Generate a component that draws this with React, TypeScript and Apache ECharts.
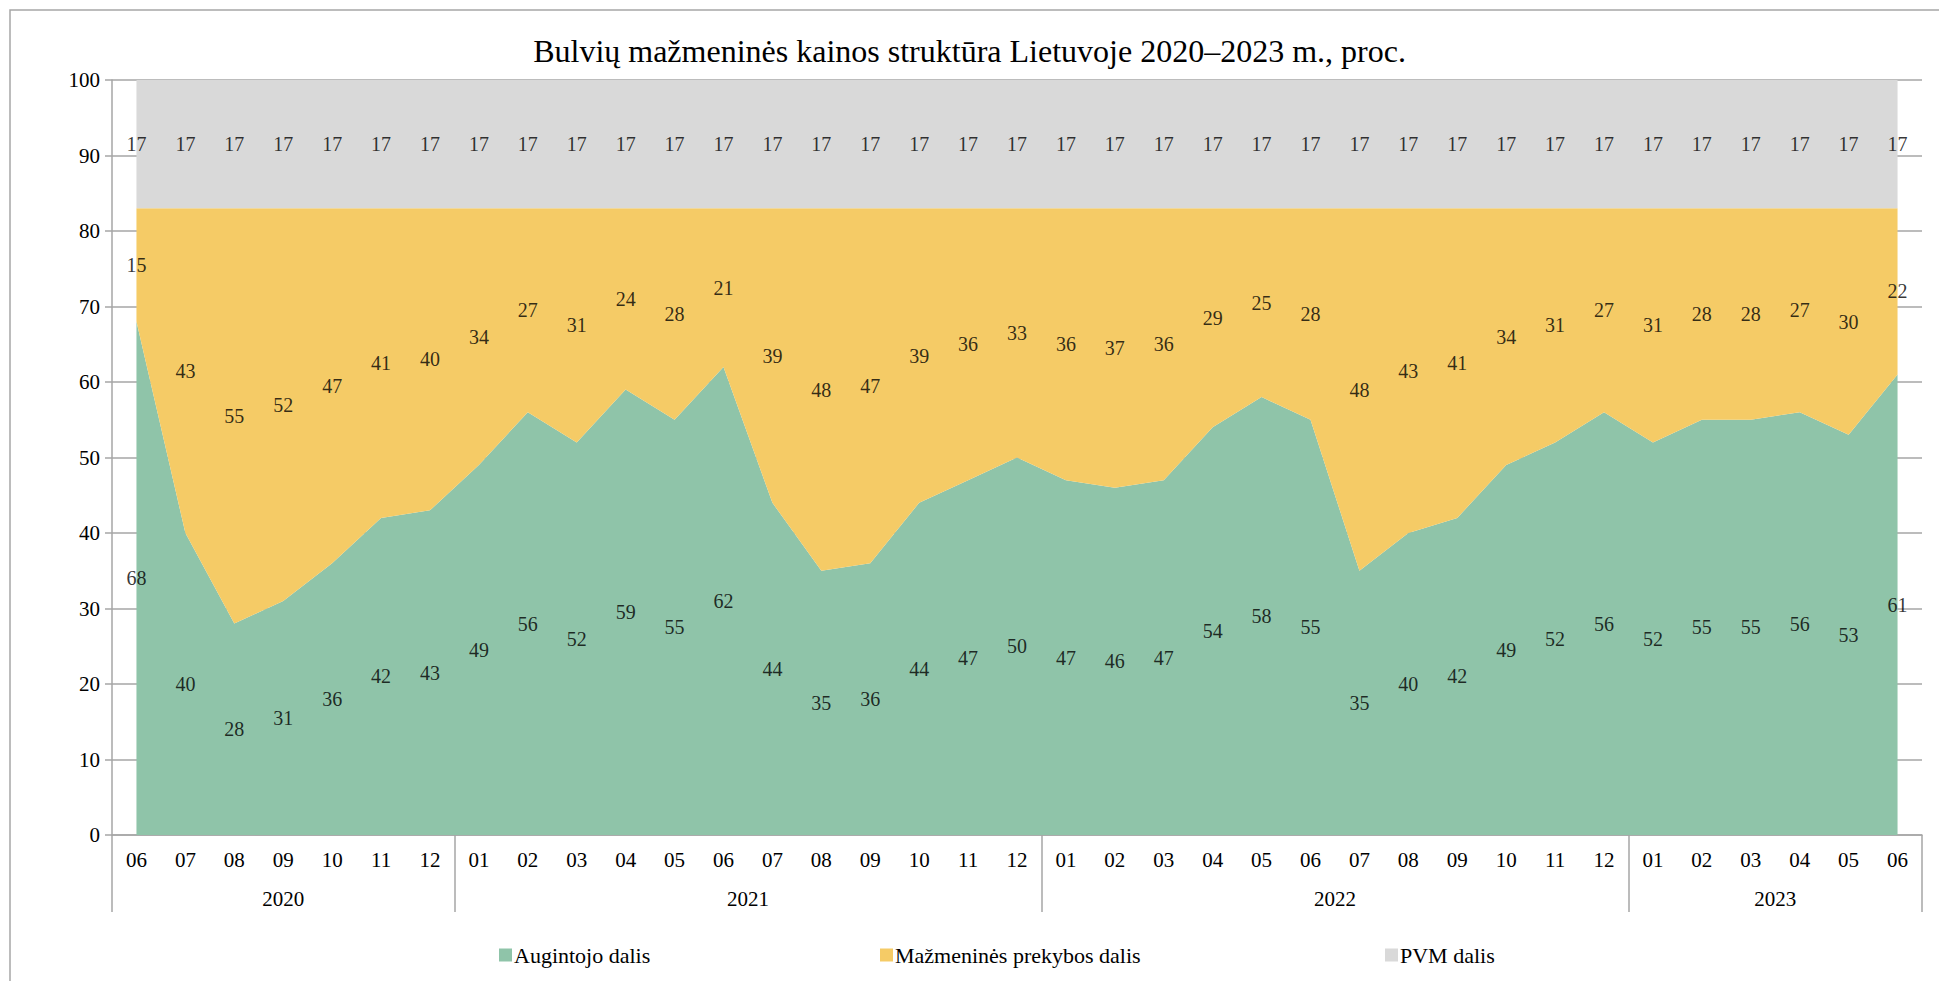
import React, { useEffect, useRef } from "react";
import * as echarts from "echarts";

const title = "Bulvių mažmeninės kainos struktūra Lietuvoje 2020–2023 m., proc.";
const months = [
  "06", "07", "08", "09", "10", "11", "12",
  "01", "02", "03", "04", "05", "06", "07", "08", "09", "10", "11", "12",
  "01", "02", "03", "04", "05", "06", "07", "08", "09", "10", "11", "12",
  "01", "02", "03", "04", "05", "06",
];
const years = ["2020", "2021", "2022", "2023"];
const yearCounts = [7, 12, 12, 6];

const growerShare = [
  68, 40, 28, 31, 36, 42, 43,
  49, 56, 52, 59, 55, 62, 44, 35, 36, 44, 47, 50,
  47, 46, 47, 54, 58, 55, 35, 40, 42, 49, 52, 56,
  52, 55, 55, 56, 53, 61,
];
const retailShare = [
  15, 43, 55, 52, 47, 41, 40,
  34, 27, 31, 24, 28, 21, 39, 48, 47, 39, 36, 33,
  36, 37, 36, 29, 25, 28, 48, 43, 41, 34, 31, 27,
  31, 28, 28, 27, 30, 22,
];
const vatShare = [
  17, 17, 17, 17, 17, 17, 17,
  17, 17, 17, 17, 17, 17, 17, 17, 17, 17, 17, 17,
  17, 17, 17, 17, 17, 17, 17, 17, 17, 17, 17, 17,
  17, 17, 17, 17, 17, 17,
];
const seriesNames = ["Augintojo dalis", "Mažmeninės prekybos dalis", "PVM dalis"];
const colors = ["#8FC4A9", "#F5CB66", "#D9D9D9"];

const FONT = "Liberation Serif";

export default function App() {
  const ref = useRef<HTMLDivElement>(null);
  useEffect(() => {
    if (!ref.current) return;
    const chart = echarts.init(ref.current, null, { renderer: "svg" });

    const all = [growerShare, retailShare, vatShare];
    const labelSeries = all.map((vals, si) => ({
      type: "scatter",
      xAxisIndex: 0,
      yAxisIndex: 0,
      symbolSize: 0,
      silent: true,
      z: 5,
      data: vals.map((v, i) => {
        let base = 0;
        for (let k = 0; k < si; k++) base += all[k][i];
        return { value: base + v / 2, raw: v };
      }),
      label: {
        show: true,
        position: "inside",
        formatter: (p: any) => String(p.data.raw),
        color: "#000",
        textBorderWidth: 0,
        fontFamily: FONT,
        fontSize: 20,
      },
    }));

    const bounds: number[] = [0];
    const centres: number[] = [];
    yearCounts.forEach((c) => {
      const s = bounds[bounds.length - 1];
      centres.push(s + c / 2);
      bounds.push(s + c);
    });
    const total = bounds[bounds.length - 1];

    const legendLefts = [494, 875, 1380];

    chart.setOption({
      animation: false,
      backgroundColor: "#fff",
      textStyle: { fontFamily: FONT, color: "#000" },
      title: {
        text: title,
        left: "center",
        top: 30,
        textStyle: { fontFamily: FONT, fontSize: 32, fontWeight: "normal", color: "#000" },
      },
      legend: seriesNames.map((n, i) => ({
        left: legendLefts[i],
        top: 939,
        itemWidth: 13,
        itemHeight: 13,
        itemGap: 0,
        icon: "rect",
        data: [n],
        textStyle: { fontFamily: FONT, fontSize: 22, color: "#000", padding: [0, 0, 0, -3] },
      })),
      grid: { left: 112, right: 17, top: 80, bottom: 146, containLabel: false },
      xAxis: [
        {
          type: "category",
          data: months,
          boundaryGap: true,
          axisLine: { show: true, lineStyle: { color: "#A6A6A6", width: 1.5 } },
          axisTick: { show: false },
          axisLabel: { fontFamily: FONT, fontSize: 21, color: "#000", margin: 14 },
          splitLine: { show: false },
        },
        {
          type: "value",
          position: "bottom",
          min: 0,
          max: total,
          axisLine: { show: false },
          axisTick: {
            show: true,
            length: 77,
            customValues: bounds,
            lineStyle: { color: "#A6A6A6", width: 1.5 },
          },
          axisLabel: {
            show: true,
            customValues: centres,
            margin: 53,
            fontFamily: FONT,
            fontSize: 21,
            color: "#000",
            formatter: (v: number) => {
              const idx = centres.findIndex((c) => Math.abs(c - v) < 1e-6);
              return idx >= 0 ? years[idx] : "";
            },
          },
          splitLine: { show: false },
        },
      ],
      yAxis: {
        type: "value",
        min: 0,
        max: 100,
        interval: 10,
        axisLine: { show: true, lineStyle: { color: "#A6A6A6", width: 1.5 } },
        axisTick: { show: true, length: 7, lineStyle: { color: "#A6A6A6", width: 1.5 } },
        axisLabel: { fontFamily: FONT, fontSize: 21, color: "#000", margin: 12 },
        splitLine: { show: true, lineStyle: { color: "#A6A6A6", width: 1.5 } },
      },
      series: [
        ...all.map((vals, si) => ({
          name: seriesNames[si],
          type: "line",
          stack: "total",
          xAxisIndex: 0,
          data: vals,
          symbol: "none",
          showSymbol: false,
          lineStyle: { width: 0 },
          itemStyle: { color: colors[si] },
          areaStyle: { color: colors[si], opacity: 1 },
          z: 2,
        })),
        ...labelSeries,
      ],
      graphic: [
        {
          type: "rect",
          shape: { x: 10, y: 10, width: 1960, height: 1000 },
          style: { fill: "none", stroke: "#A6A6A6", lineWidth: 1.5 },
          silent: true,
          z: -10,
        },
      ],
    });
    return () => chart.dispose();
  }, []);
  return (
    <div
      ref={ref}
      style={{ position: "fixed", left: 0, top: 0, width: 1939, height: 981 }}
    />
  );
}
